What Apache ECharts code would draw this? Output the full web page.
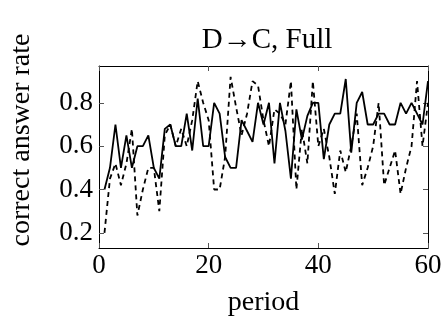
<!DOCTYPE html>
<html><head><meta charset="utf-8">
<script src="https://cdn.jsdelivr.net/npm/echarts@6/dist/echarts.min.js"></script>
<style>html,body{margin:0;padding:0;background:#fff}#c{width:445px;height:329px}</style>
</head><body><div id="c"></div>
<script>
const periods = Array.from({length: 60}, (_, i) => i + 1);
const solidRate = [0.4,0.5,0.7,0.5,0.65,0.5,0.6,0.6,0.65,0.5,
  0.45,0.68,0.7,0.6,0.6,0.75,0.58,0.82,0.6,0.6,
  0.8,0.75,0.55,0.5,0.5,0.72,0.67,0.62,0.8,0.7,
  0.8,0.52,0.8,0.67,0.45,0.77,0.63,0.74,0.8,0.8,
  0.54,0.7,0.75,0.75,0.91,0.57,0.8,0.85,0.7,0.7,
  0.75,0.75,0.7,0.7,0.8,0.75,0.8,0.75,0.7,0.9];
const dashedRate = [0.2,0.45,0.52,0.42,0.52,0.68,0.28,0.4,0.5,0.5,
  0.3,0.65,0.7,0.6,0.68,0.6,0.72,0.9,0.8,0.72,
  0.4,0.4,0.55,0.92,0.78,0.65,0.75,0.9,0.88,0.72,
  0.6,0.77,0.75,0.7,0.9,0.4,0.68,0.52,0.9,0.6,
  0.68,0.55,0.38,0.58,0.48,0.6,0.75,0.42,0.5,0.6,
  0.8,0.42,0.5,0.58,0.38,0.5,0.6,0.9,0.6,0.8];
const xTicks = [0, 20, 40, 60];
const yTicks = [0.2, 0.4, 0.6, 0.8];
const titleText = 'D\u2192C, Full';
const xName = 'period';
const yName = 'correct answer rate';

const font = 'Liberation Serif';
const fs = 27;
const chart = echarts.init(document.getElementById('c'));
const axisCommon = {
  axisLine: {show: true, onZero: false, lineStyle: {color: '#000', width: 1}},
  axisTick: {show: true, inside: true, length: 5, lineStyle: {color: '#555', width: 1}},
  splitLine: {show: false}
};
chart.setOption({
  animation: false,
  title: {text: titleText, left: 262, top: 21, textAlign: 'center',
    textStyle: {fontFamily: font, fontSize: 29, fontWeight: 'normal', color: '#000'}},
  grid: {left: 95, right: 17, top: 66, bottom: 81},
  xAxis: [
    Object.assign({type: 'value', min: 0, max: 60, interval: 20, position: 'bottom',
      name: xName, nameLocation: 'middle', nameGap: 41,
      nameTextStyle: {fontFamily: font, fontSize: 28, color: '#000'},
      axisLabel: {fontFamily: font, fontSize: fs, color: '#000', margin: 4,
        customValues: xTicks}}, axisCommon),
    Object.assign({type: 'value', min: 0, max: 60, interval: 20, position: 'top',
      axisLabel: {show: false}}, axisCommon)
  ],
  yAxis: [
    Object.assign({type: 'value', min: 0.13, max: 0.97, position: 'left',
      name: yName, nameLocation: 'middle', nameGap: 63,
      nameTextStyle: {fontFamily: font, fontSize: 28, color: '#000', padding: [0, 0, 0, 34]},
      axisLabel: {fontFamily: font, fontSize: fs, color: '#000', margin: 6,
        customValues: yTicks, formatter: v => v.toFixed(1)}}, axisCommon,
      {axisTick: Object.assign({}, axisCommon.axisTick, {customValues: yTicks})}),
    Object.assign({type: 'value', min: 0.13, max: 0.97, position: 'right',
      axisLabel: {show: false}}, axisCommon,
      {axisTick: Object.assign({}, axisCommon.axisTick, {customValues: yTicks})})
  ],
  series: [
    {type: 'line', data: periods.map((p, i) => [p, solidRate[i]]), showSymbol: false,
      lineStyle: {color: '#000', width: 1.8}, z: 3},
    {type: 'line', data: periods.map((p, i) => [p, dashedRate[i]]), showSymbol: false,
      lineStyle: {color: '#000', width: 1.8, type: [5, 4]}, z: 2}
  ]
});
</script></body></html>
